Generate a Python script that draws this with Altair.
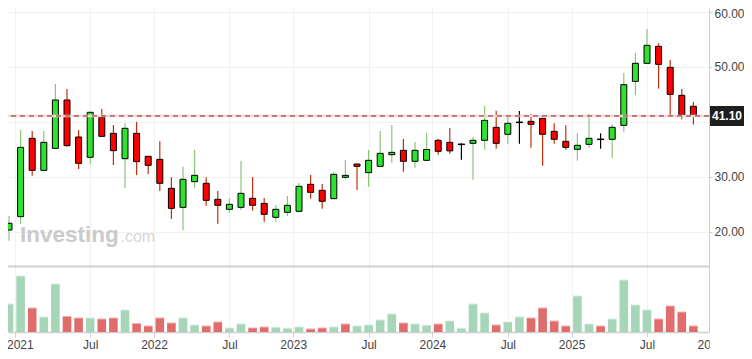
import altair as alt
import pandas as pd

# Monthly OHLC, Dec 2020 .. Nov 2025
opens = [20.36, 22.79, 37.03, 31.21, 35.21, 44.0, 37.27, 33.58, 40.85, 37.94,
         33.33, 37.94, 33.76, 33.21, 27.94, 24.48, 29.15, 28.85, 25.94, 24.12,
         24.48, 26.12, 25.21, 22.67, 23.58, 23.76, 28.67, 27.58, 26.06, 29.94,
         32.36, 30.79, 31.94, 34.06, 34.85, 32.85, 33.03, 36.67, 36.30, 35.94,
         36.12, 36.67, 39.03, 37.76, 39.94, 40.12, 40.67, 38.30, 36.48, 35.03,
         35.94, 36.85, 36.85, 39.39, 47.39, 50.67, 53.76, 49.94, 44.85, 42.85]
highs = [22.91, 38.55, 38.36, 38.36, 46.91, 46.0, 38.55, 41.9, 42.36, 39.45,
         39.82, 40.0, 33.76, 36.48, 29.94, 31.88, 34.91, 29.94, 27.45, 26.12,
         32.91, 30.0, 26.18, 24.91, 26.55, 28.91, 30.36, 28.73, 30.85, 33.09,
         32.36, 34.91, 38.36, 39.45, 36.91, 36.36, 38.0, 36.91, 38.91, 36.12,
         37.27, 42.91, 42.06, 41.21, 42.0, 41.45, 40.67, 39.76, 39.39, 37.94,
         41.45, 37.94, 39.58, 48.91, 52.55, 56.91, 54.30, 51.27, 46.0, 43.64]
lows = [18.42, 21.45, 30.24, 31.21, 35.21, 35.52, 31.45, 32.36, 37.39, 32.18,
        28.0, 30.36, 30.55, 27.45, 22.36, 20.36, 28.06, 24.79, 21.52, 23.52,
        24.0, 23.88, 21.88, 21.88, 22.91, 23.76, 26.06, 24.24, 26.06, 29.70,
        27.64, 28.24, 31.94, 32.61, 30.97, 31.70, 33.03, 34.06, 34.24, 33.15,
        29.52, 34.97, 35.15, 36.06, 36.06, 35.33, 32.06, 36.06, 34.97, 32.97,
        35.33, 35.15, 33.52, 38.24, 44.91, 50.67, 46.06, 41.09, 40.48, 39.52]
closes = [21.58, 35.39, 31.21, 36.30, 44.0, 35.70, 32.48, 41.76, 37.39, 34.79,
          38.85, 32.79, 32.12, 28.85, 24.30, 29.58, 30.30, 25.76, 24.85, 25.03,
          27.03, 24.85, 23.21, 24.12, 24.85, 28.30, 27.21, 25.58, 30.48, 30.30,
          31.94, 33.03, 34.30, 34.48, 32.85, 34.85, 35.0, 34.67, 34.75, 35.94,
          36.67, 40.30, 36.12, 39.76, 39.94, 39.58, 37.76, 36.85, 35.39, 35.76,
          37.03, 36.85, 39.03, 46.79, 50.67, 53.94, 50.48, 45.03, 41.25, 41.10]
volumes = [5.6, 11.2, 4.8, 3.0, 9.6, 3.1, 2.8, 2.8, 2.6, 2.8,
           4.4, 1.7, 1.2, 2.8, 1.8, 2.8, 1.4, 1.2, 2.0, 0.8,
           1.6, 0.8, 1.0, 0.95, 0.75, 1.0, 0.6, 0.8, 1.0, 1.6,
           1.2, 1.4, 2.4, 3.6, 1.8, 1.6, 1.35, 1.6, 2.2, 0.75,
           5.6, 3.8, 1.4, 2.0, 3.0, 2.8, 4.8, 2.2, 1.2, 7.2,
           1.6, 1.2, 2.6, 10.4, 5.4, 4.4, 2.6, 5.2, 4.0, 1.2]

tick_pos = [0.5, 7, 12.5, 19, 24.5, 31, 36.5, 43, 48.5, 55]
tick_text = ["2021", "Jul", "2022", "Jul", "2023", "Jul", "2024", "Jul", "2025", "Jul"]
edge_tick_pos = [60.5]
edge_tick_text = ["2026"]
price_ticks = [20, 30, 40, 50, 60]
last_price = 41.10

n = len(closes)
df = pd.DataFrame({"i": list(range(n)), "open": opens, "high": highs,
                   "low": lows, "close": closes, "volume": volumes})
df["dir"] = ["doji" if o == c else ("up" if c > o else "down") for o, c in zip(opens, closes)]
prev = [None] + closes[:-1]
df["vdir"] = ["up" if (p is None or c >= p) else "down" for p, c in zip(prev, closes)]

last_df = pd.DataFrame({"price": [last_price], "label": [f"{last_price:.2f}"]})
edge_df = pd.DataFrame({"pos": edge_tick_pos, "text": edge_tick_text})
one = pd.DataFrame({"t": ["Investing"], "c": [".com"]})

FONT = "Liberation Sans"
UP_BODY, DOWN_BODY = "#2ee22e", "#ff0000"
UP_WICK, DOWN_WICK = "#8cc47a", "#c2300e"
VOL_UP, VOL_DOWN = "#a6d6b8", "#e06c6c"
VOL_UP_TOP, VOL_DOWN_TOP = "#d0ecdb", "#f3b0b0"

expr = "''"
for p, t in reversed(list(zip(tick_pos, tick_text))):
    expr = f"datum.value == {p} ? '{t}' : {expr}"

W, H = 701, 324
xscale = alt.Scale(domain=[-1 / 11.6, 700 / 11.6], nice=False, zero=False)
X = alt.X("i:Q", scale=xscale, title=None,
          axis=alt.Axis(values=tick_pos, labelExpr=expr, grid=True, gridColor="#f1f1f1",
                        tickSize=5, tickColor="#d0d0d0", domainColor="#d0d0d0", domainWidth=1.5,
                        labelFlush=False, labelOverlap=False, labelFontSize=12,
                        labelColor="#444", labelPadding=2.5, title=None,
                        labelOffset={"condition": {"test": "datum.value == 0.5", "value": 5},
                                     "value": 0}))
pscale = alt.Scale(domain=[1.818, 60.727], nice=False, zero=False)
vscale = alt.Scale(domain=[0, 64.8], nice=False, zero=False)
yaxis = alt.Axis(orient="right", values=price_ticks, format=".2f", grid=True,
                 gridColor="#f1f1f1", tickSize=3, tickColor="#cccccc",
                 domainColor="#cccccc", labelFontSize=12, labelColor="#444",
                 labelPadding=2, title=None,
                 labelOffset={"condition": {"test": "datum.value == 60", "value": 2},
                              "value": 0})

base = alt.Chart(df)

wm1 = alt.Chart(one).mark_text(align="left", baseline="alphabetic", fontSize=22.5,
                               fontWeight="bold", color="#cacaca", font=FONT).encode(
    x=alt.value(12), y=alt.value(233.7), text="t:N")
wm2 = alt.Chart(one).mark_text(align="left", baseline="alphabetic", fontSize=16,
                               color="#d6d6d6", font=FONT).encode(
    x=alt.value(112.5), y=alt.value(233.7), text="c:N")

wick_color = (alt.when(alt.datum.dir == "up").then(alt.value(UP_WICK))
              .when(alt.datum.dir == "doji").then(alt.value("#000000"))
              .otherwise(alt.value(DOWN_WICK)))
wick = base.mark_rule(strokeWidth=1.2, clip=True).encode(
    x=X, y=alt.Y("low:Q", scale=pscale, axis=yaxis, title=None), y2="high:Q",
    color=wick_color)

body_fill = alt.when(alt.datum.dir == "up").then(alt.value(UP_BODY)).otherwise(alt.value(DOWN_BODY))
body = base.transform_filter(alt.datum.dir != "doji").mark_rect(
    xOffset=-3, x2Offset=3, stroke="#000000", strokeWidth=1, clip=True).encode(
    x=X, x2="i:Q", y=alt.Y("open:Q", scale=pscale, title=None), y2="close:Q", fill=body_fill)

doji = base.transform_filter(alt.datum.dir == "doji").mark_rule(
    xOffset=-3.5, x2Offset=3.5, color="#000000", strokeWidth=1.5).encode(
    x=X, x2="i:Q", y=alt.Y("close:Q", scale=pscale, title=None))

sep = alt.Chart(one).mark_rule(color="#d2d2d2", strokeWidth=2).encode(y=alt.value(258.5))

lp_halo = alt.Chart(last_df).mark_rule(color="#fad4d4", strokeWidth=2.5).encode(
    y=alt.Y("price:Q", scale=pscale, title=None))
lp_dash = alt.Chart(last_df).mark_rule(color="#7d2b2b", strokeWidth=1, strokeDash=[5, 4]).encode(
    y=alt.Y("price:Q", scale=pscale, title=None))
lp_box = alt.Chart(last_df).mark_rect(color="#1e1e1e", yOffset=-10, y2Offset=10).encode(
    x=alt.value(702), x2=alt.value(736), y=alt.Y("price:Q", scale=pscale, title=None), y2="price:Q")
lp_text = alt.Chart(last_df).mark_text(color="#ffffff", fontWeight="bold", fontSize=12,
                                       align="center", baseline="middle", font=FONT).encode(
    x=alt.value(719), y=alt.Y("price:Q", scale=pscale, title=None), text="label:N")

edge_label = alt.Chart(edge_df).mark_text(fontSize=12, color="#444", font=FONT,
                                          align="center", baseline="top").encode(
    x=alt.X("pos:Q", scale=xscale), y=alt.value(H + 7.5), text="text:N")
cover = alt.Chart(one).mark_rect(color="#ffffff").encode(
    x=alt.value(701.8), x2=alt.value(736), y=alt.value(327), y2=alt.value(343))

vol_fill = alt.when(alt.datum.vdir == "up").then(alt.value(VOL_UP)).otherwise(alt.value(VOL_DOWN))
vol_top = alt.when(alt.datum.vdir == "up").then(alt.value(VOL_UP_TOP)).otherwise(alt.value(VOL_DOWN_TOP))
vbars = base.mark_rect(xOffset=-4.3, x2Offset=4.3, clip=True).encode(
    x=X, x2="i:Q", y=alt.Y("volume:Q", scale=vscale, axis=None, title=None),
    y2=alt.datum(0), fill=vol_fill)
vtops = base.mark_rule(xOffset=-4.3, x2Offset=4.3, strokeWidth=1, clip=True).encode(
    x=X, x2="i:Q", y=alt.Y("volume:Q", scale=vscale, axis=None, title=None), color=vol_top)

price = alt.layer(wm1, wm2, wick, body, doji, sep, lp_halo, lp_dash, lp_box, lp_text,
                  edge_label, cover)
vol = alt.layer(vbars, vtops)

chart = (alt.layer(price, vol)
         .resolve_scale(y="independent")
         .properties(width=W, height=H, background="#ffffff",
                     padding={"left": 0, "top": 0, "right": 35, "bottom": 19},
                     autosize=alt.AutoSizeParams(type="none"))
         .configure_view(stroke=None)
         .configure_axis(labelFont=FONT))

chart.save("out.html", embed_options={"renderer": "svg", "actions": False})
